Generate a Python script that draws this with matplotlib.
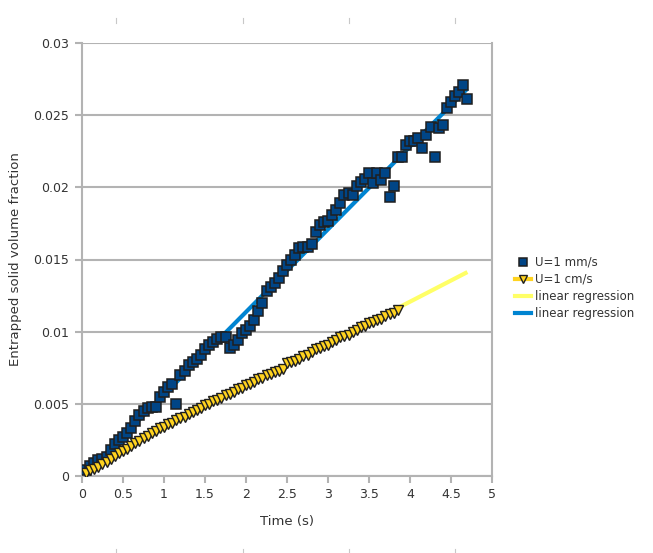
import matplotlib
matplotlib.use("Agg")
import matplotlib.pyplot as plt
from matplotlib.lines import Line2D
import numpy as np

# ---- data ----
t_mm = [0.05, 0.10, 0.15, 0.20, 0.25, 0.30, 0.35, 0.40, 0.45, 0.50,
        0.55, 0.60, 0.65, 0.70, 0.75, 0.80, 0.85, 0.90, 0.95, 1.00,
        1.05, 1.10, 1.15, 1.20, 1.25, 1.30, 1.35, 1.40, 1.45, 1.50,
        1.55, 1.60, 1.65, 1.70, 1.75, 1.80, 1.85, 1.90, 1.95, 2.00,
        2.05, 2.10, 2.15, 2.20, 2.25, 2.30, 2.35, 2.40, 2.45, 2.50,
        2.55, 2.60, 2.65, 2.70, 2.75, 2.80, 2.85, 2.90, 2.95, 3.00,
        3.05, 3.10, 3.15, 3.20, 3.25, 3.30, 3.35, 3.40, 3.45, 3.50,
        3.55, 3.60, 3.65, 3.70, 3.75, 3.80, 3.85, 3.90, 3.95, 4.00,
        4.05, 4.10, 4.15, 4.20, 4.25, 4.30, 4.35, 4.40, 4.45, 4.50,
        4.55, 4.60, 4.65, 4.70]
phi_mm = [0.0004, 0.0007, 0.0009, 0.0011, 0.0012, 0.0013, 0.0018, 0.0022, 0.0025, 0.0027,
          0.0030, 0.0033, 0.0038, 0.0042, 0.0045, 0.0047, 0.0048, 0.0048, 0.0055, 0.0058,
          0.0062, 0.0064, 0.0050, 0.0070, 0.0073, 0.0077, 0.0079, 0.0081, 0.0084, 0.0088,
          0.0091, 0.0093, 0.0095, 0.0096, 0.0096, 0.0089, 0.0091, 0.0094, 0.0099, 0.0101,
          0.0104, 0.0108, 0.0114, 0.0120, 0.0128, 0.0131, 0.0134, 0.0137, 0.0142, 0.0146,
          0.0150, 0.0153, 0.0158, 0.0159, 0.0159, 0.0161, 0.0169, 0.0174, 0.0176, 0.0177,
          0.0181, 0.0184, 0.0189, 0.0195, 0.0196, 0.0195, 0.0201, 0.0204, 0.0206, 0.0210,
          0.0203, 0.0210, 0.0205, 0.0210, 0.0193, 0.0201, 0.0221, 0.0221, 0.0229, 0.0232,
          0.0232, 0.0234, 0.0227, 0.0236, 0.0242, 0.0221, 0.0241, 0.0243, 0.0255, 0.0259,
          0.0263, 0.0266, 0.0271, 0.0261]

t_cm = [0.05, 0.10, 0.15, 0.20, 0.25, 0.30, 0.35, 0.40, 0.45, 0.50,
        0.55, 0.60, 0.65, 0.70, 0.75, 0.80, 0.85, 0.90, 0.95, 1.00,
        1.05, 1.10, 1.15, 1.20, 1.25, 1.30, 1.35, 1.40, 1.45, 1.50,
        1.55, 1.60, 1.65, 1.70, 1.75, 1.80, 1.85, 1.90, 1.95, 2.00,
        2.05, 2.10, 2.15, 2.20, 2.25, 2.30, 2.35, 2.40, 2.45, 2.50,
        2.55, 2.60, 2.65, 2.70, 2.75, 2.80, 2.85, 2.90, 2.95, 3.00,
        3.05, 3.10, 3.15, 3.20, 3.25, 3.30, 3.35, 3.40, 3.45, 3.50,
        3.55, 3.60, 3.65, 3.70, 3.75, 3.80, 3.85]
phi_cm = [0.0002, 0.0004, 0.0005, 0.0006, 0.0008, 0.0010, 0.0012, 0.0014, 0.0016, 0.0017,
          0.0019, 0.0021, 0.0023, 0.0024, 0.0026, 0.0028, 0.0030, 0.0031, 0.0033, 0.0034,
          0.0036, 0.0037, 0.0039, 0.0040, 0.0041, 0.0043, 0.0044, 0.0046, 0.0047, 0.0049,
          0.0050, 0.0052, 0.0053, 0.0054, 0.0056, 0.0057, 0.0058, 0.0060, 0.0061, 0.0063,
          0.0064, 0.0065, 0.0067, 0.0068, 0.0070, 0.0071, 0.0072, 0.0073, 0.0074, 0.0078,
          0.0079, 0.0080, 0.0081, 0.0083, 0.0084, 0.0086, 0.0088, 0.0089, 0.0090, 0.0091,
          0.0093, 0.0094, 0.0096, 0.0097, 0.0098, 0.0100, 0.0101, 0.0103, 0.0104, 0.0106,
          0.0107, 0.0108, 0.0109, 0.0111, 0.0112, 0.0113, 0.0115]

labels = ["U=1 mm/s", "U=1 cm/s", "linear regression", "linear regression"]
x_ticks = [0, 0.5, 1, 1.5, 2, 2.5, 3, 3.5, 4, 4.5, 5]
y_ticks = [0, 0.005, 0.01, 0.015, 0.02, 0.025, 0.03]

# ---- colours ----
c_blue = "#004586"
c_yellow = "#ffd320"
c_reg_yellow = "#ffff66"
c_reg_blue = "#0084d1"
c_grid = "#b3b3b3"
c_text = "#333333"

plt.rcParams["font.family"] = ["DejaVu Sans"]

fig = plt.figure(figsize=(6.53, 5.53), dpi=100)
ax = fig.add_axes([82 / 653, 1 - 476 / 553, 410 / 653, 433 / 553])

# regression lines over the full time span of the data
t_all = np.array(t_mm + t_cm)
t_line = np.array([t_all.min(), t_all.max()])
k_cm = np.polyfit(t_cm, phi_cm, 1)
k_mm = np.polyfit(t_mm, phi_mm, 1)
ax.plot(t_line, np.polyval(k_cm, t_line), color=c_reg_yellow, lw=3, zorder=2,
        solid_capstyle="butt")
ax.plot(t_line, np.polyval(k_mm, t_line), color=c_reg_blue, lw=3, zorder=2,
        solid_capstyle="butt")

ax.plot(t_mm, phi_mm, ls="none", marker="s", ms=7.5, mfc=c_blue, mec="#1f1f1f",
        mew=1.1, zorder=3)
ax.plot(t_cm, phi_cm, ls="none", marker="v", ms=7.5, mfc=c_yellow, mec="#1f1f1f",
        mew=1.0, zorder=4)

ax.set_xlim(0, 5)
ax.set_ylim(0, 0.03)
ax.set_xticks(x_ticks)
ax.set_xticklabels(["%g" % v for v in x_ticks])
ax.set_yticks(y_ticks)
ax.set_yticklabels(["%g" % v for v in y_ticks])
ax.grid(True, axis="y", color=c_grid, lw=1.5)
ax.set_axisbelow(True)
for s in ax.spines.values():
    s.set_color(c_grid)
    s.set_linewidth(1.5)
ax.spines["top"].set_visible(False)
ax.tick_params(colors=c_grid, labelcolor=c_text, labelsize=9, length=5, width=1.5,
               direction="out", pad=4)

ax.set_xlabel("Time (s)", fontsize=9.5, color=c_text, labelpad=10)
ax.set_ylabel("Entrapped solid volume fraction", fontsize=9.5, color=c_text, labelpad=8)

handles = [
    Line2D([], [], ls="none", marker="s", ms=6, mfc=c_blue, mec="#1f1f1f", mew=1.1),
    Line2D([], [], color=c_yellow, lw=3, marker="v", ms=6, mfc=c_yellow, mec="#1f1f1f", mew=1.0),
    Line2D([], [], color=c_reg_yellow, lw=3),
    Line2D([], [], color=c_reg_blue, lw=3),
]
leg = fig.legend(handles, labels, loc="center left", bbox_to_anchor=(510 / 653, 1 - 288 / 553),
                 frameon=False, fontsize=8.5, handlelength=1.4, handletextpad=0.3,
                 labelspacing=0.35, borderaxespad=0)
for txt in leg.get_texts():
    txt.set_color(c_text)

# small crop marks at the page edges
for xm in [116, 243, 349, 455]:
    fig.add_artist(Line2D([xm / 653, xm / 653], [1 - 18 / 553, 1 - 23 / 553], color="#c8c8c8", lw=0.8))
    fig.add_artist(Line2D([xm / 653, xm / 653], [1 - 549 / 553, 1 - 553 / 553], color="#c8c8c8", lw=0.8))

fig.savefig("out.png", dpi=100)
